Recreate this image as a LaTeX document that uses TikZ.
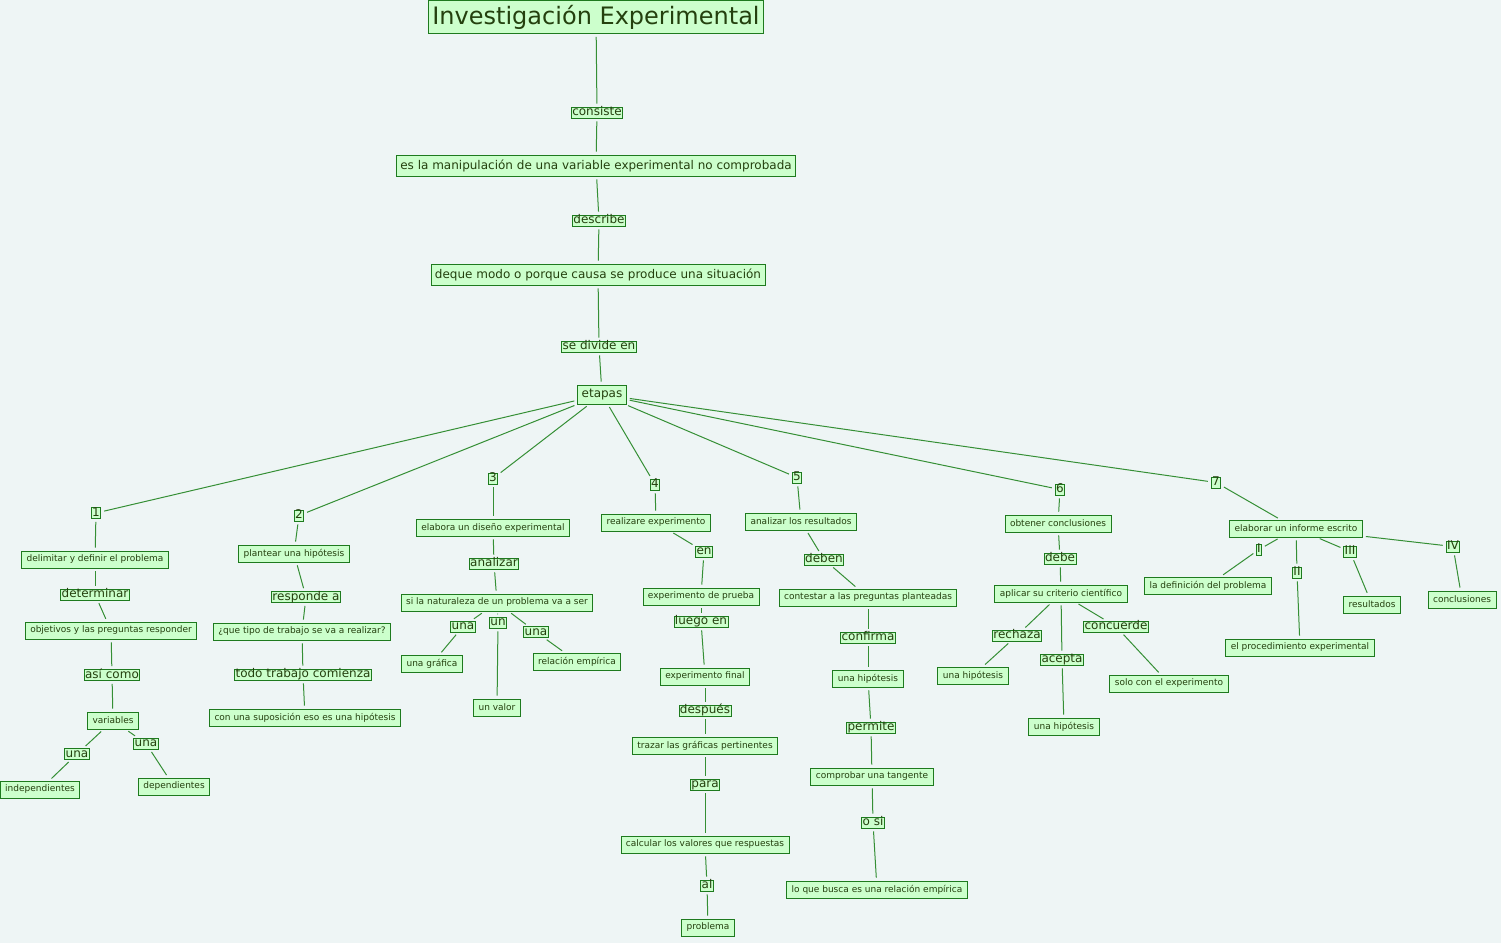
\documentclass[tikz,border=0pt]{standalone}
\usepackage{fontspec}
\setmainfont{DejaVu Sans}
\usepackage{tikz}
\usetikzlibrary{positioning}
\definecolor{bgmap}{HTML}{EEF5F5}
\definecolor{boxfill}{HTML}{CCFFCC}
\definecolor{boxedge}{HTML}{1E7A1E}
\definecolor{inktext}{HTML}{24400E}
\definecolor{linkline}{HTML}{358F35}
\tikzset{
  headbox/.style={draw=boxedge, line width=0.9pt, fill=boxfill, text=inktext, font=\fontsize{24}{26}\selectfont, inner xsep=4pt, inner ysep=0pt, minimum height=33pt},
  bigbox/.style={draw=boxedge, line width=0.9pt, fill=boxfill, text=inktext, font=\fontsize{12}{14}\selectfont, inner xsep=4pt, inner ysep=0pt, minimum height=21pt},
  concept/.style={draw=boxedge, line width=0.9pt, fill=boxfill, text=inktext, font=\fontsize{9}{10}\selectfont, inner xsep=5pt, inner ysep=0pt, minimum height=17pt},
  linkword/.style={draw=boxedge, line width=0.9pt, fill=boxfill, text=inktext, font=\fontsize{12}{13}\selectfont, inner xsep=1pt, inner ysep=0pt, text height=8.5pt, text depth=2.5pt},
  conn/.style={draw=linkline, line width=1pt, shorten >=3pt, shorten <=3pt}
}
\begin{document}
\begin{tikzpicture}[x=1pt, y=-1pt]
  \fill[bgmap] (0,0) rectangle (1501,943);
  \useasboundingbox (0,0) rectangle (1501,943);
  % tronco principal
  \node[headbox] (title) at (596,17) {Investigación Experimental};
  \node[linkword] (consiste) at (597,112.5) {consiste};
  \node[bigbox] (manip) at (596,165.5) {es la manipulación de una variable experimental no comprobada};
  \node[linkword] (describe) at (599,220.5) {describe\ };
  \node[bigbox] (deque) at (598,274.5) {deque modo o porque causa se produce una situación};
  \node[linkword] (divide) at (599,346.5) {se divide en\ };
  \node[bigbox, minimum height=19pt] (etapas) at (602,394.5) {etapas};
  % numeros de etapa
  \node[linkword] (n1) at (96,513) {1};
  \node[linkword] (n2) at (299,515.5) {2};
  \node[linkword] (n3) at (493,478.5) {3};
  \node[linkword] (n4) at (655,484.5) {4};
  \node[linkword] (n5) at (797,477.5) {5};
  \node[linkword] (n6) at (1060,489.5) {6};
  \node[linkword] (n7) at (1216,482.5) {7};
  % etapa 1
  \node[concept] (delim) at (95,559.5) {delimitar y definir el problema};
  \node[linkword] (determ) at (95,594.5) {determinar\ };
  \node[concept] (objet) at (111,630.5) {objetivos y las preguntas responder};
  \node[linkword] (asi) at (112,675) {así como};
  \node[concept] (vars) at (113,720.5) {variables};
  \node[linkword] (unaIa) at (77,754) {una};
  \node[linkword] (unaIb) at (146,743.5) {una\ };
  \node[concept] (indep) at (40,789.5) {independientes};
  \node[concept] (dep) at (174,786.5) {dependientes};
  % etapa 2
  \node[concept] (plant) at (294,553.5) {plantear una hipótesis\ };
  \node[linkword] (resp) at (306,597) {responde a\ };
  \node[concept] (quetipo) at (302,631.5) {¿que tipo de trabajo se va a realizar?};
  \node[linkword] (todo) at (303,674.5) {todo trabajo comienza};
  \node[concept] (consup) at (305,717.5) {con una suposición eso es una hipótesis};
  % etapa 3
  \node[concept] (elabora) at (493,527.5) {elabora un diseño experimental\ };
  \node[linkword] (analizar) at (494,563.5) {analizar};
  \node[concept] (sila) at (497,602.5) {si la naturaleza de un problema va a ser};
  \node[linkword] (unaIIIa) at (463,626.5) {una};
  \node[linkword] (unIII) at (498,622.5) {un};
  \node[linkword] (unaIIIb) at (536,632) {una\ };
  \node[concept] (grafica) at (432,663.5) {una gráfica};
  \node[concept] (valor) at (497,707.5) {un valor\ };
  \node[concept] (relemp) at (577,661.5) {relación empírica};
  % etapa 4
  \node[concept] (realiz) at (656,522.5) {realizare experimento};
  \node[linkword] (en) at (704,551.5) {en};
  \node[concept] (prueba) at (701,596.5) {experimento de prueba};
  \node[linkword] (luego) at (701,621.5) {luego en\ };
  \node[concept] (final) at (705,676.5) {experimento final};
  \node[linkword] (despues) at (705,710.5) {después};
  \node[concept] (trazar) at (705,745.5) {trazar las gráficas pertinentes\ };
  \node[linkword] (para) at (705,784.5) {para};
  \node[concept] (calcular) at (705,844.5) {calcular los valores que respuestas\ };
  \node[linkword] (al) at (707,885.5) {al};
  \node[concept] (problema) at (708,927.5) {problema};
  % etapa 5
  \node[concept] (analres) at (801,521.5) {analizar los resultados\ };
  \node[linkword] (deben) at (824,559.5) {deben};
  \node[concept] (contestar) at (868,597.5) {contestar a las preguntas planteadas};
  \node[linkword] (confirma) at (868,637.5) {confirma};
  \node[concept] (hipV) at (868,678.5) {una hipótesis};
  \node[linkword] (permite) at (871,727.5) {permite};
  \node[concept] (comprobar) at (872,776.5) {comprobar una tangente};
  \node[linkword] (osi) at (873,822.5) {o si};
  \node[concept] (busca) at (877,889.5) {lo que busca es una relación empírica};
  % etapa 6
  \node[concept] (obtener) at (1058,523.5) {obtener conclusiones};
  \node[linkword] (debe) at (1060,558.5) {debe};
  \node[concept] (aplicar) at (1061,593.5) {aplicar su criterio científico};
  \node[linkword] (rechaza) at (1017,635.5) {rechaza};
  \node[linkword] (acepta) at (1062,659.5) {acepta};
  \node[linkword] (concuerde) at (1116,626.5) {concuerde};
  \node[concept] (hipVIa) at (973,675.5) {una hipótesis};
  \node[concept] (hipVIb) at (1064,726.5) {una hipótesis};
  \node[concept] (solo) at (1169,683.5) {solo con el experimento};
  % etapa 7
  \node[concept] (informe) at (1296,528.5) {elaborar un informe escrito\ };
  \node[linkword] (rI) at (1259,549.5) {I};
  \node[linkword] (rII) at (1297,572.5) {II};
  \node[linkword] (rIII) at (1350,551.5) {III};
  \node[linkword] (rIV) at (1453,546.5) {IV};
  \node[concept] (defprob) at (1208,585.5) {la definición del problema};
  \node[concept] (proced) at (1300,647.5) {el procedimiento experimental};
  \node[concept] (result) at (1372,604.5) {resultados};
  \node[concept] (concl) at (1462,599.5) {conclusiones};
  % conexiones
  \draw[conn] (title) -- (consiste);
  \draw[conn] (consiste) -- (manip);
  \draw[conn] (manip) -- (describe);
  \draw[conn] (describe) -- (deque);
  \draw[conn] (deque) -- (divide);
  \draw[conn] (divide) -- (etapas);
  \foreach \k in {n1,n2,n3,n4,n5,n6,n7}
    \draw[conn] (etapas) -- (\k);
  \draw[conn] (n1) -- (delim);
  \draw[conn] (delim) -- (determ);
  \draw[conn] (determ) -- (objet);
  \draw[conn] (objet) -- (asi);
  \draw[conn] (asi) -- (vars);
  \draw[conn] (vars) -- (unaIa);
  \draw[conn] (vars) -- (unaIb);
  \draw[conn] (unaIa) -- (indep);
  \draw[conn] (unaIb) -- (dep);
  \draw[conn] (n2) -- (plant);
  \draw[conn] (plant) -- (resp);
  \draw[conn] (resp) -- (quetipo);
  \draw[conn] (quetipo) -- (todo);
  \draw[conn] (todo) -- (consup);
  \draw[conn] (n3) -- (elabora);
  \draw[conn] (elabora) -- (analizar);
  \draw[conn] (analizar) -- (sila);
  \draw[conn] (sila) -- (unaIIIa);
  \draw[conn] (sila) -- (unIII);
  \draw[conn] (sila) -- (unaIIIb);
  \draw[conn] (unaIIIa) -- (grafica);
  \draw[conn] (unIII) -- (valor);
  \draw[conn] (unaIIIb) -- (relemp);
  \draw[conn] (n4) -- (realiz);
  \draw[conn] (realiz) -- (en);
  \draw[conn] (en) -- (prueba);
  \draw[conn] (prueba) -- (luego);
  \draw[conn] (luego) -- (final);
  \draw[conn] (final) -- (despues);
  \draw[conn] (despues) -- (trazar);
  \draw[conn] (trazar) -- (para);
  \draw[conn] (para) -- (calcular);
  \draw[conn] (calcular) -- (al);
  \draw[conn] (al) -- (problema);
  \draw[conn] (n5) -- (analres);
  \draw[conn] (analres) -- (deben);
  \draw[conn] (deben) -- (contestar);
  \draw[conn] (contestar) -- (confirma);
  \draw[conn] (confirma) -- (hipV);
  \draw[conn] (hipV) -- (permite);
  \draw[conn] (permite) -- (comprobar);
  \draw[conn] (comprobar) -- (osi);
  \draw[conn] (osi) -- (busca);
  \draw[conn] (n6) -- (obtener);
  \draw[conn] (obtener) -- (debe);
  \draw[conn] (debe) -- (aplicar);
  \draw[conn] (aplicar) -- (rechaza);
  \draw[conn] (aplicar) -- (acepta);
  \draw[conn] (aplicar) -- (concuerde);
  \draw[conn] (rechaza) -- (hipVIa);
  \draw[conn] (acepta) -- (hipVIb);
  \draw[conn] (concuerde) -- (solo);
  \draw[conn] (n7) -- (informe);
  \foreach \k in {rI,rII,rIII,rIV}
    \draw[conn] (informe) -- (\k);
  \draw[conn] (rI) -- (defprob);
  \draw[conn] (rII) -- (proced);
  \draw[conn] (rIII) -- (result);
  \draw[conn] (rIV) -- (concl);
\end{tikzpicture}
\end{document}
